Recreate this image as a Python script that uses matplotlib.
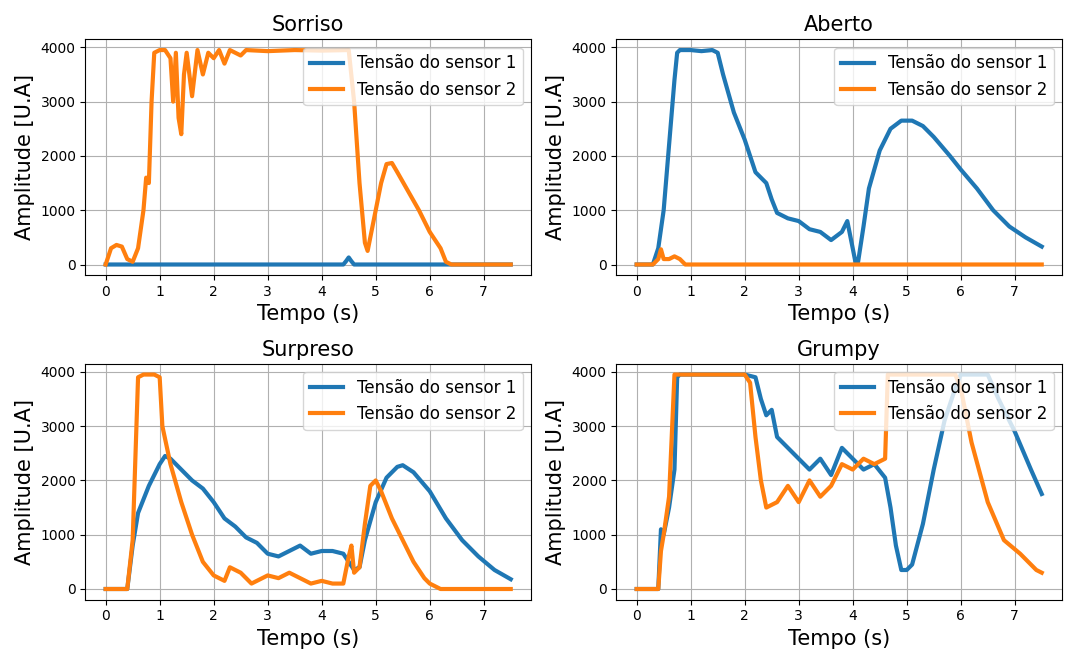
import matplotlib
matplotlib.use("Agg")
import matplotlib.pyplot as plt

# Sorriso
sor_t1 = [0, 4.4, 4.45, 4.5, 4.55, 4.6, 6.2, 7.5]
sor_v1 = [0, 0, 60, 130, 60, 0, 0, 0]
sor_t2 = [0, 0.1, 0.2, 0.3, 0.4, 0.5, 0.6, 0.7, 0.75, 0.8, 0.85, 0.9, 1.0, 1.1, 1.2, 1.25, 1.3, 1.35, 1.4,
          1.45, 1.5, 1.6, 1.7, 1.8, 1.9, 2.0, 2.1, 2.2, 2.3, 2.5, 2.6, 3.0, 3.5, 4.0, 4.5, 4.6, 4.7, 4.8,
          4.85, 4.9, 5.0, 5.1, 5.2, 5.3, 5.4, 5.6, 5.8, 6.0, 6.2, 6.3, 6.4, 7.5]
sor_v2 = [0, 300, 360, 330, 100, 50, 300, 1000, 1600, 1500, 3000, 3900, 3950, 3950, 3800, 3000, 3900, 2700, 2400,
          3500, 3900, 3100, 3950, 3500, 3900, 3800, 3950, 3700, 3950, 3850, 3950, 3930, 3950, 3940, 3950, 3000, 1500, 400,
          250, 500, 1000, 1500, 1850, 1870, 1700, 1350, 1000, 600, 300, 50, 0, 0]

# Aberto
abe_t1 = [0, 0.3, 0.4, 0.5, 0.6, 0.7, 0.75, 0.8, 1.0, 1.2, 1.4, 1.5, 1.6, 1.8, 2.0, 2.2, 2.4, 2.5, 2.6, 2.8,
          3.0, 3.2, 3.4, 3.6, 3.8, 3.9, 4.0, 4.05, 4.1, 4.2, 4.3, 4.5, 4.7, 4.9, 5.1, 5.3, 5.5, 5.8, 6.0, 6.3,
          6.6, 6.9, 7.2, 7.5]
abe_v1 = [0, 0, 300, 1000, 2200, 3400, 3900, 3950, 3950, 3930, 3950, 3900, 3500, 2800, 2300, 1700, 1500, 1200, 950, 850,
          800, 650, 600, 450, 600, 800, 300, 50, 50, 700, 1400, 2100, 2500, 2650, 2650, 2550, 2350, 2000, 1750, 1400,
          1000, 700, 500, 330]
abe_t2 = [0, 0.3, 0.4, 0.45, 0.5, 0.6, 0.7, 0.8, 0.9, 7.5]
abe_v2 = [0, 0, 100, 280, 100, 100, 150, 100, 0, 0]

# Surpreso
sur_t1 = [0, 0.4, 0.5, 0.6, 0.8, 1.0, 1.1, 1.2, 1.4, 1.6, 1.8, 2.0, 2.2, 2.4, 2.6, 2.8, 3.0, 3.2, 3.4, 3.6,
          3.8, 4.0, 4.2, 4.4, 4.6, 4.7, 4.8, 5.0, 5.2, 5.4, 5.5, 5.7, 6.0, 6.3, 6.6, 6.9, 7.2, 7.5]
sur_v1 = [0, 0, 800, 1400, 1900, 2300, 2450, 2400, 2200, 2000, 1850, 1600, 1300, 1150, 950, 850, 650, 600, 700, 800,
          650, 700, 700, 650, 350, 400, 900, 1600, 2050, 2250, 2280, 2150, 1800, 1300, 900, 600, 350, 180]
sur_t2 = [0, 0.4, 0.5, 0.6, 0.7, 0.9, 1.0, 1.05, 1.2, 1.4, 1.6, 1.8, 2.0, 2.2, 2.3, 2.5, 2.7, 3.0, 3.2, 3.4,
          3.6, 3.8, 4.0, 4.2, 4.4, 4.5, 4.55, 4.6, 4.7, 4.8, 4.9, 5.0, 5.1, 5.3, 5.5, 5.7, 5.9, 6.0, 6.2, 7.5]
sur_v2 = [0, 0, 900, 3900, 3950, 3950, 3900, 3000, 2300, 1600, 1000, 500, 250, 150, 400, 300, 100, 250, 200, 300,
          200, 100, 150, 100, 100, 600, 800, 300, 400, 1200, 1900, 2000, 1800, 1300, 900, 500, 200, 100, 0, 0]

# Grumpy
gru_t1 = [0, 0.4, 0.45, 0.5, 0.6, 0.7, 0.75, 0.8, 2.0, 2.2, 2.3, 2.4, 2.5, 2.6, 2.8, 3.0, 3.2, 3.4, 3.6, 3.8,
          4.0, 4.2, 4.4, 4.6, 4.7, 4.8, 4.9, 5.0, 5.1, 5.3, 5.5, 5.7, 5.9, 6.0, 6.5, 6.7, 7.0, 7.3, 7.5]
gru_v1 = [0, 0, 1100, 1000, 1500, 2200, 3900, 3950, 3950, 3900, 3500, 3200, 3300, 2800, 2600, 2400, 2200, 2400, 2100, 2600,
          2400, 2200, 2300, 2050, 1500, 800, 350, 350, 450, 1200, 2200, 3100, 3700, 3950, 3950, 3500, 2900, 2200, 1750]
gru_t2 = [0, 0.4, 0.45, 0.5, 0.6, 0.7, 2.0, 2.1, 2.2, 2.3, 2.4, 2.6, 2.8, 3.0, 3.2, 3.4, 3.6, 3.8, 4.0, 4.2,
          4.4, 4.6, 4.65, 5.9, 6.0, 6.2, 6.5, 6.8, 7.1, 7.4, 7.5]
gru_v2 = [0, 0, 700, 1000, 1700, 3950, 3950, 3800, 2800, 2000, 1500, 1600, 1900, 1600, 2000, 1700, 1900, 2300, 2200, 2400,
          2300, 2400, 3950, 3950, 3700, 2700, 1600, 900, 650, 350, 300]

panels = [
    ("Sorriso", sor_t1, sor_v1, sor_t2, sor_v2),
    ("Aberto", abe_t1, abe_v1, abe_t2, abe_v2),
    ("Surpreso", sur_t1, sur_v1, sur_t2, sur_v2),
    ("Grumpy", gru_t1, gru_v1, gru_t2, gru_v2),
]

fig, axes = plt.subplots(2, 2, figsize=(10.77, 6.64), dpi=100)
for ax, (title, t1, v1, t2, v2) in zip(axes.flat, panels):
    ax.plot(t1, v1, color="#1f77b4", linewidth=3, label="Tensão do sensor 1")
    ax.plot(t2, v2, color="#ff7f0e", linewidth=3, label="Tensão do sensor 2")
    ax.set_title(title, fontsize=15)
    ax.set_xlabel("Tempo (s)", fontsize=15)
    ax.set_ylabel("Amplitude [U.A]", fontsize=15)
    ax.set_yticks([0, 1000, 2000, 3000, 4000])
    ax.grid(True)
    ax.legend(loc="upper right", fontsize=12)
fig.tight_layout()
fig.savefig("out.png", dpi=100)
